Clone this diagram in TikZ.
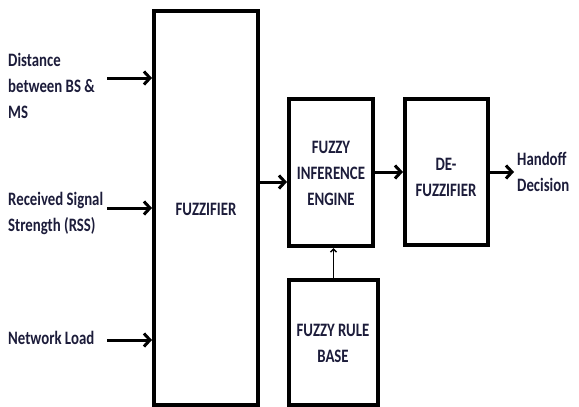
\documentclass[tikz,border=0pt]{standalone}
\usepackage{fontspec}
\setmainfont{Carlito}
\usepackage{graphicx}
\usetikzlibrary{arrows.meta}
\definecolor{txtc}{RGB}{28,28,58}
\newcommand{\tlines}[2][l]{\scalebox{1}[1.28]{\begin{tabular}{@{}#1@{}}#2\end{tabular}}}
\begin{document}
\begin{tikzpicture}[x=1pt,y=-1pt,
  blk/.style={draw=black,line width=4pt,rectangle,inner sep=0pt},
  lbl/.style={inner sep=0pt,text=txtc,font=\fontsize{14.8}{20.3}\selectfont\bfseries},
  arr/.style={line width=3pt,-{Straight Barb[length=6pt,width=13pt]}},
  thinarr/.style={line width=1.5pt,-{Straight Barb[length=3pt,width=6pt]}}]
\useasboundingbox (0,0) rectangle (579,407);
% boxes
\node[blk,minimum width=104pt,minimum height=394pt] (fuzz) at (206,208) {};
\node[blk,minimum width=84pt,minimum height=147pt] (eng) at (331,172.5) {};
\node[blk,minimum width=83pt,minimum height=146pt] (def) at (446.5,172) {};
\node[blk,minimum width=89pt,minimum height=125pt] (rule) at (333.5,342.5) {};
% box texts
\node[lbl] (tfuzz) at (206,210) {\tlines[c]{FUZZIFIER}};
\node[lbl] (teng) at (331,174) {\tlines[c]{FUZZY\\INFERENCE\\ENGINE}};
\node[lbl] (tdef) at (446,178) {\tlines[c]{DE-\\FUZZIFIER}};
\node[lbl] (trule) at (333,344) {\tlines[c]{FUZZY RULE\\BASE}};
% input labels
\node[lbl,anchor=west] (in1) at (8,87) {\tlines{Distance\\between BS \&\\MS}};
\node[lbl,anchor=west] (in2) at (8,213) {\tlines{Received Signal\\Strength (RSS)}};
\node[lbl,anchor=west] (in3) at (8,339) {\tlines{Network Load}};
\node[lbl,anchor=west] (out) at (517,173) {\tlines{Handoff\\Decision}};
% arrow start points
\coordinate (s1) at (107,78);
\coordinate (s2) at (107,208);
\coordinate (s3) at (107,340);
\coordinate (y1) at (0,182);
\coordinate (y2) at (0,172);
\coordinate (e4) at (514,172);
\draw[arr] (s1) -- (s1 -| fuzz.west);
\draw[arr] (s2) -- (s2 -| fuzz.west);
\draw[arr] (s3) -- (s3 -| fuzz.west);
\draw[arr] (fuzz.east |- y1) -- (eng.west |- y1);
\draw[arr] (eng.east |- y2) -- (def.west |- y2);
\draw[arr] (def.east |- y2) -- (e4);
\draw[thinarr] (rule.north) -- (rule.north |- eng.south);
\end{tikzpicture}
\end{document}
